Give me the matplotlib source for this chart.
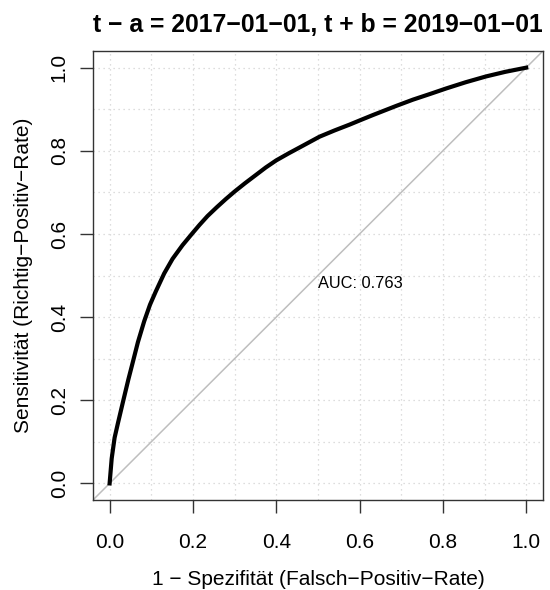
import matplotlib
matplotlib.use("Agg")
import matplotlib.pyplot as plt
import numpy as np

plt.rcParams["font.family"] = ["Liberation Sans", "DejaVu Sans"]

# ROC curve
FPR = [0.0, 0.005, 0.012, 0.02, 0.033, 0.045, 0.054, 0.068, 0.083, 0.097,
       0.111, 0.131, 0.151, 0.175, 0.199, 0.216, 0.235, 0.257, 0.279, 0.30,
       0.325, 0.35, 0.375, 0.40, 0.43, 0.456, 0.48, 0.504, 0.54, 0.576,
       0.605, 0.632, 0.66, 0.688, 0.728, 0.77, 0.808, 0.855, 0.904, 0.95,
       1.0]
TPR = [0.0, 0.06, 0.11, 0.145, 0.20, 0.25, 0.285, 0.34, 0.39, 0.43,
       0.462, 0.505, 0.54, 0.573, 0.602, 0.622, 0.643, 0.664, 0.684, 0.702,
       0.722, 0.741, 0.760, 0.777, 0.794, 0.808, 0.821, 0.834, 0.849, 0.863,
       0.875, 0.886, 0.897, 0.908, 0.923, 0.937, 0.950, 0.965, 0.979, 0.990,
       1.0]
AUC = 0.763
TICKS = [0.0, 0.2, 0.4, 0.6, 0.8, 1.0]
GRID = np.round(np.arange(0, 1.01, 0.1), 1)

TITLE = "t \u2212 a = 2017\u221201\u221201, t + b = 2019\u221201\u221201"
XLABEL = "1 \u2212 Spezifit\u00e4t (Falsch\u2212Positiv\u2212Rate)"
YLABEL = "Sensitivit\u00e4t (Richtig\u2212Positiv\u2212Rate)"

fig = plt.figure(figsize=(5.5, 5.9), dpi=100)
ax = fig.add_axes([0.169, 0.1525, 0.818, 0.761])

for g in GRID:
    ax.axvline(g, color="#D3D3D3", lw=0.9, ls=(0, (1, 3)), zorder=0)
    ax.axhline(g, color="#D3D3D3", lw=0.9, ls=(0, (1, 3)), zorder=0)

ax.axline((0, 0), (1, 1), color="#BEBEBE", lw=1.1, zorder=1)
ax.plot(FPR, TPR, color="black", lw=3.0, solid_joinstyle="round", zorder=2)
ax.text(0.5, 0.482, f"AUC: {AUC}", ha="left", va="center", fontsize=11.8)

ax.set_xlim(-0.04, 1.04)
ax.set_ylim(-0.04, 1.04)
ax.set_xticks(TICKS)
ax.set_yticks(TICKS)
ax.set_xticklabels([f"{t:.1f}" for t in TICKS], fontsize=15)
ax.set_yticklabels([f"{t:.1f}" for t in TICKS], fontsize=15, rotation=90, va="center")
ax.tick_params(length=9.5, width=1, color="#333333")
ax.tick_params(axis="x", pad=14)
ax.tick_params(axis="y", pad=8)
for s in ax.spines.values():
    s.set_linewidth(1.0)
    s.set_color("#333333")

ax.set_xlabel(XLABEL, fontsize=15, labelpad=13)
ax.set_ylabel(YLABEL, fontsize=15, labelpad=12)
ax.set_title(TITLE, fontsize=17.8, fontweight="bold", pad=14, loc="right")

fig.savefig("out.png", dpi=100)
